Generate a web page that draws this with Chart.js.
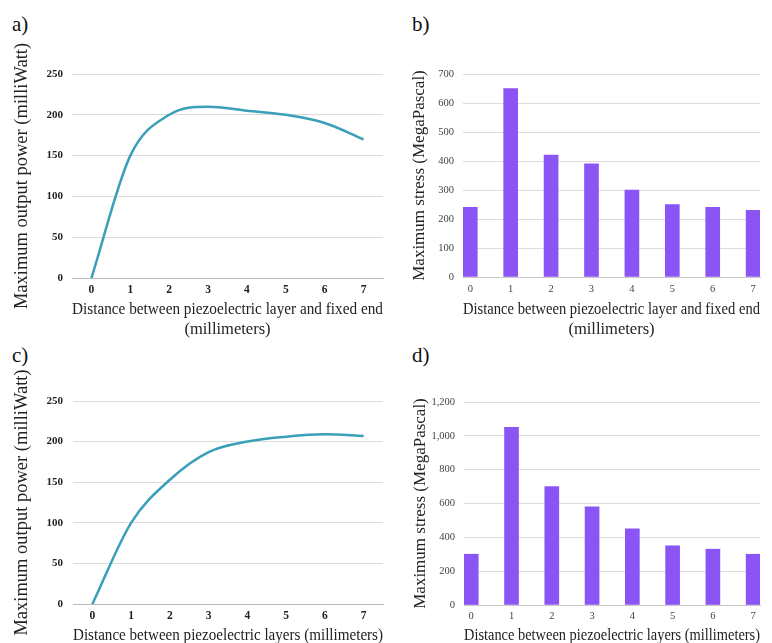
<!DOCTYPE html>
<html>
<head>
<meta charset="utf-8">
<script src="https://cdn.jsdelivr.net/npm/chart.js@4.4.1/dist/chart.umd.min.js"></script>
<style>
  body { margin: 0; background: #fff; width: 772px; height: 643px; overflow: hidden; position: relative; }
  .panel { position: absolute; }
  .tag { position: absolute; font-family: "Liberation Serif", serif; font-size: 21px; line-height: 21px; color: #111; }
</style>
</head>
<body>
<div class="tag" style="left:12px;top:14px">a)</div>
<div class="tag" style="left:412px;top:14px">b)</div>
<div class="tag" style="left:12px;top:345px">c)</div>
<div class="tag" style="left:412px;top:345px">d)</div>

<div class="panel" style="left:0;top:0;width:386px;height:340px"><canvas id="chartA"></canvas></div>
<div class="panel" style="left:386px;top:0;width:386px;height:340px"><canvas id="chartB"></canvas></div>
<div class="panel" style="left:0;top:330px;width:386px;height:313px"><canvas id="chartC"></canvas></div>
<div class="panel" style="left:386px;top:330px;width:386px;height:313px"><canvas id="chartD"></canvas></div>

<script>
// distances in millimeters (x axis of every panel)
const distances = [0, 1, 2, 3, 4, 5, 6, 7];

// a) power vs distance to fixed end
const powerFixedEnd = [0, 150, 200, 210, 205, 200, 190, 170];
// b) stress vs distance to fixed end
const stressFixedEnd = [240, 650, 420, 390, 300, 250, 240, 230];
// c) power vs distance between layers
const powerBetween = [0, 100, 153, 187, 200, 206, 209, 207];
// d) stress vs distance between layers
const stressBetween = [300, 1050, 700, 580, 450, 350, 330, 300];

const SERIF = '"Liberation Serif", "Times New Roman", serif';
const LINE_COLOR = '#3a9fb8';
const BAR_COLOR = '#8b55f6';
const GRID_COLOR = '#dcdcdc';

const yTitlePower = 'Maximum output power (milliWatt)';
const yTitleStress = 'Maximum stress (MegaPascal)';
const xTitleFixedEnd = ['Distance between piezoelectric layer and fixed end', '(millimeters)'];
const xTitleBetween = 'Distance between piezoelectric layers (millimeters)';

// fixed scale sizes so the plot areas land where the figure has them
function fixWidth(w) {
  return function(scale) {
    scale.width = w;
    scale.paddingTop = 0;
    scale.paddingBottom = 0;
  };
}
function fixHeight(h) {
  return function(scale) {
    scale.height = h;
    scale.paddingLeft = 0;
    scale.paddingRight = 0;
  };
}

function yScale(p) {
  return {
    min: 0,
    max: p.max,
    border: { display: false },
    grid: { color: GRID_COLOR, drawTicks: false },
    ticks: {
      stepSize: p.step,
      padding: p.tickPad,
      color: p.bold ? '#222' : '#444',
      font: { family: SERIF, size: p.bold ? 11 : 10.5, weight: p.bold ? 'bold' : 'normal' }
    },
    title: {
      display: true,
      text: p.title,
      color: '#222',
      font: { family: SERIF, size: p.titleSize, lineHeight: 1.2 },
      padding: { top: p.titlePad, bottom: 0 }
    },
    afterFit: fixWidth(p.width)
  };
}

function xTitle(text, lineHeight, pad) {
  return {
    display: true,
    text: text,
    color: '#222',
    font: { family: SERIF, size: 16.5, lineHeight: lineHeight },
    padding: { top: 0, bottom: pad }
  };
}

function lineChart(id, values, p) {
  return new Chart(document.getElementById(id), {
    type: 'line',
    data: {
      labels: distances.map(String),
      datasets: [{
        data: values,
        borderColor: LINE_COLOR,
        borderWidth: 2.5,
        pointRadius: 0,
        cubicInterpolationMode: 'monotone',
        fill: false
      }]
    },
    options: {
      responsive: true,
      maintainAspectRatio: false,
      animation: false,
      layout: { padding: { top: p.top, right: p.right, left: 0, bottom: 0 } },
      plugins: { legend: { display: false }, tooltip: { enabled: false } },
      scales: {
        x: {
          offset: true,
          grid: { display: false, drawTicks: false },
          border: { display: true, color: '#b8b8b8' },
          ticks: { padding: p.xTickPad, color: '#222', font: { family: SERIF, size: 11.5, weight: 'bold' } },
          title: xTitle(p.xTitle, p.xLine, p.xPad),
          afterFit: fixHeight(p.xHeight)
        },
        y: yScale({ max: 250, step: 50, bold: true, tickPad: p.yTickPad, title: yTitlePower, titleSize: 18.5, titlePad: 11, width: p.yWidth })
      }
    }
  });
}

function barChart(id, values, p) {
  return new Chart(document.getElementById(id), {
    type: 'bar',
    data: {
      datasets: [{
        data: distances.map((d, i) => ({ x: d, y: values[i] })),
        backgroundColor: BAR_COLOR,
        barThickness: 14
      }]
    },
    options: {
      responsive: true,
      maintainAspectRatio: false,
      animation: false,
      layout: { padding: { top: p.top, right: p.right, left: 0, bottom: 0 } },
      plugins: { legend: { display: false }, tooltip: { enabled: false } },
      scales: {
        x: {
          type: 'linear',
          offset: false,
          min: -0.18,
          max: 7.17,
          grid: { display: false, drawTicks: false },
          border: { display: true, color: '#c8c8c8' },
          ticks: {
            autoSkip: false,
            padding: p.xTickPad,
            color: '#444',
            font: { family: SERIF, size: 10.5 }
          },
          afterBuildTicks: scale => { scale.ticks = distances.map(v => ({ value: v })); },
          title: xTitle(p.xTitle, p.xLine, p.xPad),
          afterFit: fixHeight(p.xHeight)
        },
        y: yScale({ max: p.max, step: p.step, bold: false, tickPad: 9, title: yTitleStress, titleSize: 17, titlePad: p.titlePad, width: p.yWidth })
      }
    }
  });
}

lineChart('chartA', powerFixedEnd, {
  top: 74, right: 3, yWidth: 72, xHeight: 62, yTickPad: 9, xTickPad: 5,
  xTitle: xTitleFixedEnd, xLine: '20px', xPad: 0
});

barChart('chartB', stressFixedEnd, {
  top: 74, right: 12, yWidth: 77, xHeight: 63, xTickPad: 6, max: 700, step: 100, titlePad: 23,
  xTitle: xTitleFixedEnd, xLine: '20px', xPad: 0
});

lineChart('chartC', powerBetween, {
  top: 71, right: 3, yWidth: 73, xHeight: 39, yTickPad: 10, xTickPad: 5,
  xTitle: xTitleBetween, xLine: '14px', xPad: 0
});

barChart('chartD', stressBetween, {
  top: 72, right: 12, yWidth: 78, xHeight: 38, xTickPad: 5, max: 1200, step: 200, titlePad: 24,
  xTitle: xTitleBetween, xLine: '14px', xPad: 0
});
</script>
</body>
</html>
